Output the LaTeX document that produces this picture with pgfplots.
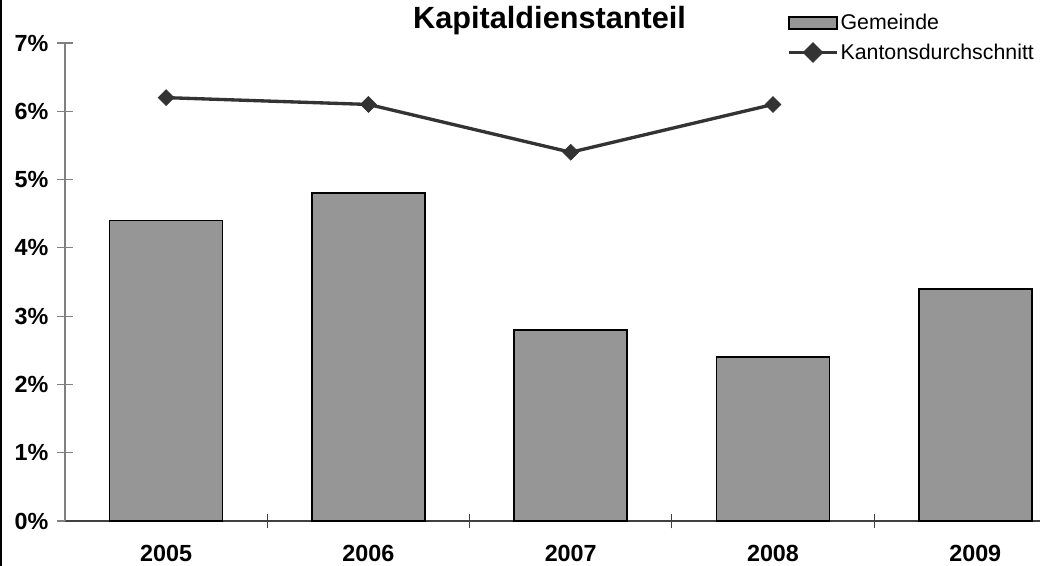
\documentclass[border=0pt]{standalone}
\usepackage{pgfplots}
\pgfplotsset{compat=1.18}
\usepackage{fontspec}
\setmainfont{Liberation Sans}
\definecolor{barfill}{HTML}{969696}
\definecolor{linecol}{HTML}{333333}
\definecolor{yaxcol}{HTML}{808080}
\definecolor{xaxcol}{HTML}{404040}
\begin{document}
\begin{tikzpicture}
\useasboundingbox (-48.75pt,-33.75pt) rectangle (731.25pt,390.75pt);
\fill[white] (-48.75pt,-33.75pt) rectangle (731.25pt,390.75pt);
\draw[black, line width=1.6pt] (-47.95pt,-33.75pt) -- (-47.95pt,390.75pt);
\begin{axis}[
  scale only axis,
  width=731.25pt, height=358.5pt,
  xmin=-0.5, xmax=4.32, ymin=0, ymax=7,
  axis lines*=left,
  x axis line style={color=xaxcol, line width=0.9pt},
  y axis line style={color=yaxcol, line width=1.1pt},
  tick align=center,
  xtick={0,1,2,3,4},
  xticklabels={2005,2006,2007,2008,2009},
  minor xtick={0.5,1.5,2.5,3.5},
  xtick style={draw=none},
  minor x tick style={draw=xaxcol, line width=0.9pt},
  minor tick length=11pt,
  ytick={0,1,2,3,4,5,6,7},
  yticklabels={0\%,1\%,2\%,3\%,4\%,5\%,6\%,7\%},
  ytick style={draw=yaxcol, line width=0.9pt},
  major tick length=12pt,
  ticklabel style={font=\fontsize{17.5}{20}\selectfont\bfseries},
  xticklabel style={yshift=-9pt},
  yticklabel style={xshift=-3pt},
  title={Kapitaldienstanteil},
  title style={font=\fontsize{23}{27}\selectfont\bfseries, at={(0.497,1.0126)}, anchor=base},
  legend style={at={(0.7405,1.069)}, anchor=north west, draw=none, fill=none,
    font=\fontsize{16}{19}\selectfont, inner sep=0pt, row sep=3pt,
    nodes={inner xsep=1.5pt, inner ysep=3pt}},
  legend cell align=left,
  clip=false,
]
\addplot[ybar, bar width=84.75pt, fill=barfill, draw=black, line width=1.1pt,
  legend image code/.code={\draw[fill=barfill, draw=black, line width=1pt] (0pt,-4.5pt) rectangle (36pt,4.5pt);}]
  coordinates {(0,4.4) (1,4.8) (2,2.8) (3,2.4) (4,3.4)};
\addlegendentry{Gemeinde}
\addplot[color=linecol, line width=2.5pt, mark=square*, mark size=4.2pt,
  mark options={rotate=45, fill=linecol, draw=linecol, line width=0.5pt},
  legend image code/.code={\draw[color=linecol, line width=2.5pt] (0pt,0pt) -- (36pt,0pt);
    \fill[linecol] (18pt,6pt) -- (24pt,0pt) -- (18pt,-6pt) -- (12pt,0pt) -- cycle;}]
  coordinates {(0,6.2) (1,6.1) (2,5.4) (3,6.1)};
\addlegendentry{Kantonsdurchschnitt}
\end{axis}
\end{tikzpicture}
\end{document}
